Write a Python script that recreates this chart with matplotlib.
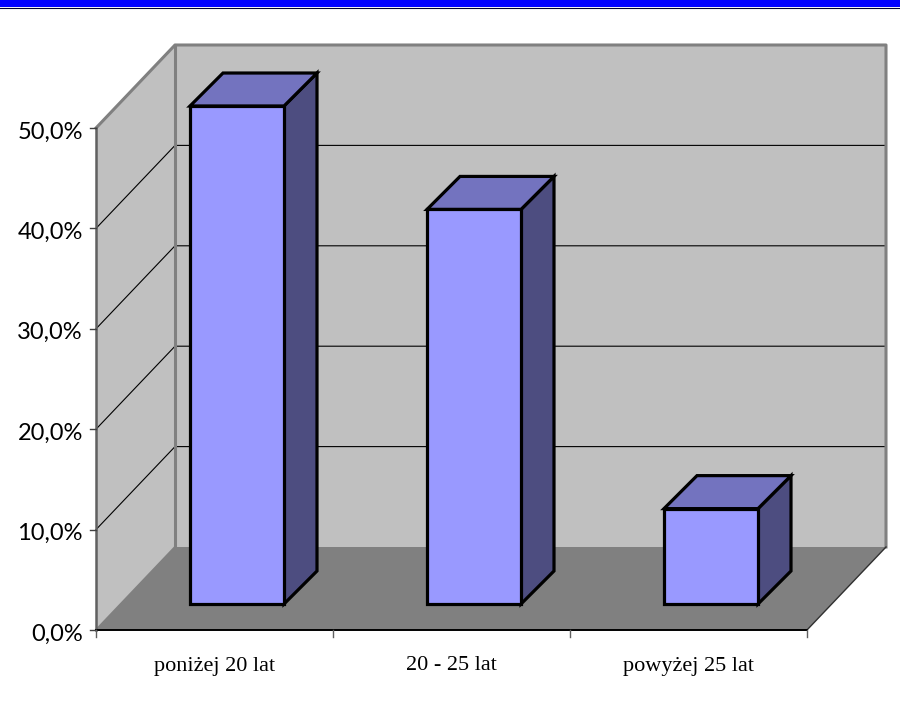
# -*- coding:utf-8 -*-
import matplotlib
matplotlib.use('Agg')
import matplotlib.pyplot as plt
from matplotlib.patches import Polygon, Rectangle

categories = ['poniżej 20 lat', '20 - 25 lat', 'powyżej 25 lat']
values = [49.6, 39.3, 9.5]
y_ticks = [0, 10, 20, 30, 40, 50]
y_tick_labels = ['0,0%', '10,0%', '20,0%', '30,0%', '40,0%', '50,0%']

W, H = 900, 715
X0, Y0 = 96, 630           # pixel position of the front corner
CAT_W = 237.0
PCT_H = 10.04
DX, DY = 79 / CAT_W, 83 / PCT_H        # depth of the box
BDX, BDY = 33 / CAT_W, 33 / PCT_H      # depth of a bar
BAR_W = 94 / CAT_W
BAR_SHIFT, BAR_LIFT = 22.5 / CAT_W, 26 / PCT_H

fig = plt.figure(figsize=(W / 100, H / 100), dpi=100)
ax = fig.add_axes([0, 0, 1, 1])
ax.set_xlim(-X0 / CAT_W, (W - X0) / CAT_W)
ax.set_ylim(-(H - Y0) / PCT_H, Y0 / PCT_H)
ax.axis('off')

n = len(categories)
top = y_ticks[-1]


def poly(pts, color, edge='none', lw=0, z=1):
    ax.add_patch(Polygon(pts, closed=True, facecolor=color, edgecolor=edge,
                         linewidth=lw, zorder=z, joinstyle='miter'))


# blue band at the top of the slide
ax.add_patch(Rectangle((0, 1 - 7 / H), 1, 7 / H, transform=ax.transAxes,
                       facecolor='#0000FF', edgecolor='none', zorder=5))
ax.plot([0, 1], [1 - 7.5 / H] * 2, transform=ax.transAxes, color='#000033', lw=0.8, zorder=6)

# walls and floor
poly([(0, 0), (DX, DY), (DX, top + DY), (0, top)], '#C0C0C0')
poly([(DX, DY), (n + DX, DY), (n + DX, top + DY), (DX, top + DY)], '#C0C0C0')
poly([(0, 0), (n, 0), (n + DX, DY), (DX, DY)], '#808080')

# grid lines on side and back wall
for t in y_ticks[1:-1]:
    ax.plot([0, DX, n + DX], [t, t + DY, t + DY], color='black', lw=0.8, zorder=2)

# wall outlines
wall = '#808080'
ax.plot([0, DX, n + DX, n + DX], [top, top + DY, top + DY, DY], color=wall, lw=2.2, zorder=2)
ax.plot([DX, DX], [DY, top + DY], color=wall, lw=2.2, zorder=2)
ax.plot([0, DX], [0, DY], color=wall, lw=1.5, zorder=2)
ax.plot([n, n + DX], [0, DY], color='#303030', lw=1, zorder=2)

# axes
ax.plot([0, 0], [0, top], color='#606060', lw=1.8, zorder=3)
ax.plot([0, n], [0, 0], color='black', lw=1.4, zorder=3)
for t, lab in zip(y_ticks, y_tick_labels):
    ax.plot([-6 / CAT_W, 0], [t, t], color='#404040', lw=1, zorder=3)
    ax.text(-13 / CAT_W, t - 0.4, lab, ha='right', va='center', family='Lato',
            fontsize=17, color='black')
for i in range(n + 1):
    ax.plot([i, i], [0, -7 / PCT_H], color='#606060', lw=1, zorder=3)

# bars
for i, (cat, v) in enumerate(zip(categories, values)):
    x1 = i + 0.5 + BAR_SHIFT - BAR_W / 2
    x2 = x1 + BAR_W
    y1 = BAR_LIFT
    y2 = BAR_LIFT + v
    poly([(x2, y1), (x2 + BDX, y1 + BDY), (x2 + BDX, y2 + BDY), (x2, y2)], '#4D4D80', 'black', 2.3, 4)
    poly([(x1, y2), (x2, y2), (x2 + BDX, y2 + BDY), (x1 + BDX, y2 + BDY)], '#7373BF', 'black', 2.3, 4)
    poly([(x1, y1), (x2, y1), (x2, y2), (x1, y2)], '#9999FF', 'black', 2.3, 4)
    ax.text(i + 0.5, -36 / PCT_H, cat, ha='center', va='center',
            family='Liberation Serif', fontsize=16, color='black')

fig.savefig('out.png', dpi=100)
